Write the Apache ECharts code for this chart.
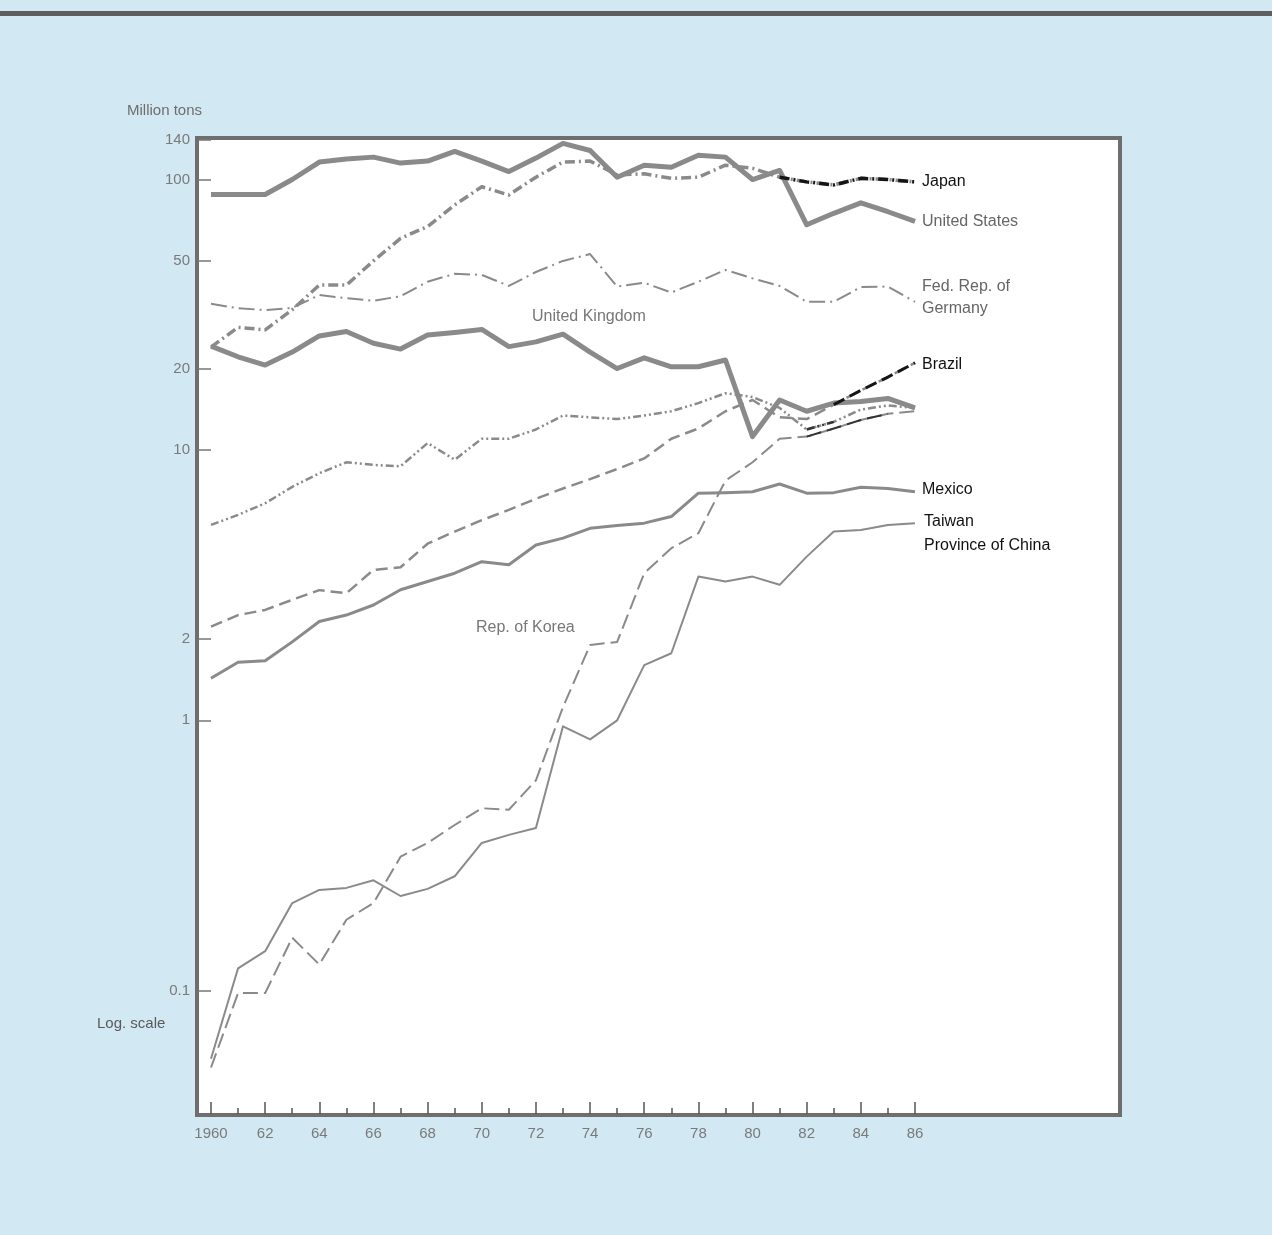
<!DOCTYPE html>
<html>
<head>
<meta charset="utf-8">
<script src="https://cdn.jsdelivr.net/npm/echarts@6/dist/echarts.min.js"></script>
<style>
  html, body { margin: 0; padding: 0; background: #d2e8f3; }
  #chart { width: 1272px; height: 1235px; }
</style>
</head>
<body>
<div id="chart"></div>
<script>
const years = [];
for (let y = 1960; y <= 1986; y++) years.push(y);

const yTicks = [0.1, 1, 2, 10, 20, 50, 100, 140];

const unitedStates = [88, 88, 88, 100, 116, 119, 121, 115, 117, 127, 117, 107, 120, 136, 128, 102, 113, 111, 123, 121, 100, 108, 68, 75, 82, 76, 70];
const japan = [24, 28.4, 27.8, 33, 40.7, 40.7, 50, 60.6, 67, 80.5, 94, 87.7, 102, 116, 117, 104, 105, 101, 102, 113, 110, 102, 98, 95.5, 101, 100, 98];
const germany = [34.7, 33.4, 32.9, 33.5, 37.4, 36.4, 35.6, 37, 41.9, 44.8, 44.4, 40.4, 45.5, 50, 53, 40.2, 41.5, 38.2, 41.9, 46.3, 43.1, 40.4, 35.3, 35.3, 40, 40.2, 35.3];
const unitedKingdom = [24.2, 22.1, 20.6, 23, 26.4, 27.4, 24.8, 23.6, 26.6, 27.2, 27.9, 24.1, 25.1, 26.8, 23, 20, 21.9, 20.3, 20.3, 21.5, 11.2, 15.3, 13.9, 14.9, 15.1, 15.5, 14.3];
const canada = [5.28, 5.75, 6.35, 7.3, 8.2, 9, 8.8, 8.7, 10.6, 9.2, 11, 11, 11.9, 13.4, 13.2, 13, 13.4, 13.9, 14.9, 16.2, 15.7, 14.3, 11.9, 12.7, 14.1, 14.6, 14.3];
const brazil = [2.22, 2.45, 2.56, 2.79, 3.03, 2.95, 3.6, 3.68, 4.5, 4.99, 5.5, 6, 6.6, 7.2, 7.8, 8.5, 9.3, 11, 12, 13.9, 15.3, 13.2, 13, 14.7, 16.6, 18.6, 21];
const mexico = [1.43, 1.64, 1.66, 1.95, 2.32, 2.45, 2.67, 3.04, 3.26, 3.5, 3.86, 3.76, 4.45, 4.72, 5.13, 5.25, 5.36, 5.67, 6.92, 6.95, 7, 7.48, 6.92, 6.95, 7.28, 7.2, 7];
const korea = [0.052, 0.098, 0.098, 0.157, 0.125, 0.183, 0.211, 0.313, 0.352, 0.41, 0.473, 0.467, 0.6, 1.12, 1.9, 1.95, 3.5, 4.33, 4.92, 7.7, 9, 11, 11.2, 12, 12.9, 13.6, 13.9];
const taiwan = [0.056, 0.121, 0.14, 0.211, 0.236, 0.24, 0.256, 0.224, 0.238, 0.265, 0.352, 0.377, 0.4, 0.95, 0.85, 1, 1.6, 1.77, 3.4, 3.26, 3.4, 3.17, 4.03, 4.99, 5.06, 5.28, 5.36];

const FONT = '"Liberation Sans", Arial, sans-serif';
const GREY = '#8a8a8a';

// [year, value] pairs, optionally only for years from..to
const pairs = (arr, from, to) => years
    .map((y, i) => [y, arr[i]])
    .filter(p => (from === undefined || p[0] >= from) && (to === undefined || p[0] <= to));

function lineSeries(name, data, width, dash, opts) {
    opts = opts || {};
    const s = {
        name: name,
        type: 'line',
        data: data,
        showSymbol: false,
        symbol: 'none',
        silent: true,
        z: opts.z || 2,
        lineStyle: { color: opts.color || GREY, width: width, type: dash, join: 'round', cap: 'butt' }
    };
    if (opts.label) {
        s.endLabel = Object.assign({
            show: true,
            formatter: opts.label.text,
            color: opts.label.color || '#111',
            fontFamily: FONT,
            fontSize: 16,
            distance: 7
        }, opts.label.extra || {});
    }
    return s;
}

const chart = echarts.init(document.getElementById('chart'));

const option = {
    backgroundColor: '#d2e8f3',
    animation: false,
    textStyle: { fontFamily: FONT },
    grid: { left: 211, top: 140, width: 704, height: 974 },
    xAxis: {
        type: 'value',
        min: 1960,
        max: 1986,
        interval: 2,
        axisLine: { show: false },
        splitLine: { show: false },
        axisTick: { show: true, inside: true, length: 12, lineStyle: { color: '#555', width: 1.5 } },
        minorTick: { show: true, splitNumber: 2, length: 6, lineStyle: { color: '#555', width: 1.5 } },
        axisLabel: {
            color: '#7a7a7a',
            fontSize: 15,
            margin: 12,
            formatter: v => v === 1960 ? '1960' : String(v).slice(2)
        }
    },
    yAxis: {
        type: 'log',
        logBase: 10,
        min: 0.035,
        max: 140,
        axisLine: { show: false },
        splitLine: { show: false },
        minorTick: { show: false },
        axisTick: { show: true, inside: false, length: 13, customValues: yTicks, lineStyle: { color: '#777', width: 1.5 } },
        axisLabel: { color: '#7a7a7a', fontSize: 15, margin: 21, customValues: yTicks, formatter: v => String(v) }
    },
    graphic: [
        { type: 'rect', z: -10, shape: { x: 0, y: 11, width: 1272, height: 5 }, style: { fill: '#5e5e5e' } },
        { type: 'rect', z: -10, shape: { x: 197, y: 138, width: 923, height: 977 }, style: { fill: '#ffffff', stroke: '#6e6e6e', lineWidth: 4 } },
        { type: 'text', left: 127, top: 103, style: { text: 'Million tons', fill: '#6e6e6e', font: '15px ' + FONT } },
        { type: 'text', left: 97, top: 1016, style: { text: 'Log. scale', fill: '#5a5a5a', font: '15px ' + FONT } },
        { type: 'text', left: 532, top: 309, style: { text: 'United Kingdom', fill: '#777', font: '16px ' + FONT } },
        { type: 'text', left: 476, top: 620, style: { text: 'Rep. of Korea', fill: '#777', font: '16px ' + FONT } }
    ],
    series: [
        lineSeries('United States', pairs(unitedStates), 5, 'solid', { label: { text: 'United States', color: '#666' } }),
        lineSeries('Japan', pairs(japan), 3.5, [10, 4, 2, 4], { label: { text: 'Japan' } }),
        lineSeries('Japan recent', pairs(japan, 1981), 3.5, [10, 4, 2, 4], { color: '#151515', z: 3 }),
        lineSeries('Fed. Rep. of Germany', pairs(germany), 2, [16, 5, 2, 5], { label: { text: 'Fed. Rep. of\nGermany', color: '#666', extra: { lineHeight: 22, offset: [0, -4] } } }),
        lineSeries('United Kingdom', pairs(unitedKingdom), 5, 'solid'),
        lineSeries('Canada', pairs(canada), 2.5, [8, 3, 2, 3, 2, 3]),
        lineSeries('Canada recent', pairs(canada, 1982, 1983), 2.5, [8, 3, 2, 3, 2, 3], { color: '#333', z: 3 }),
        lineSeries('Brazil', pairs(brazil), 2.5, [12, 6], { label: { text: 'Brazil', extra: { offset: [0, 2] } } }),
        lineSeries('Brazil recent', pairs(brazil, 1983), 3, [12, 6], { color: '#151515', z: 3 }),
        lineSeries('Mexico', pairs(mexico), 3, 'solid', { label: { text: 'Mexico', extra: { offset: [0, -2] } } }),
        lineSeries('Rep. of Korea', pairs(korea), 2, [15, 6]),
        lineSeries('Rep. of Korea recent', pairs(korea, 1982, 1985), 2, [15, 6], { color: '#333', z: 3 }),
        lineSeries('Taiwan Province of China', pairs(taiwan), 2, 'solid', { label: { text: 'Taiwan\nProvince of China', extra: { lineHeight: 24, offset: [2, 10] } } })
    ]
};

chart.setOption(option);
</script>
</body>
</html>
